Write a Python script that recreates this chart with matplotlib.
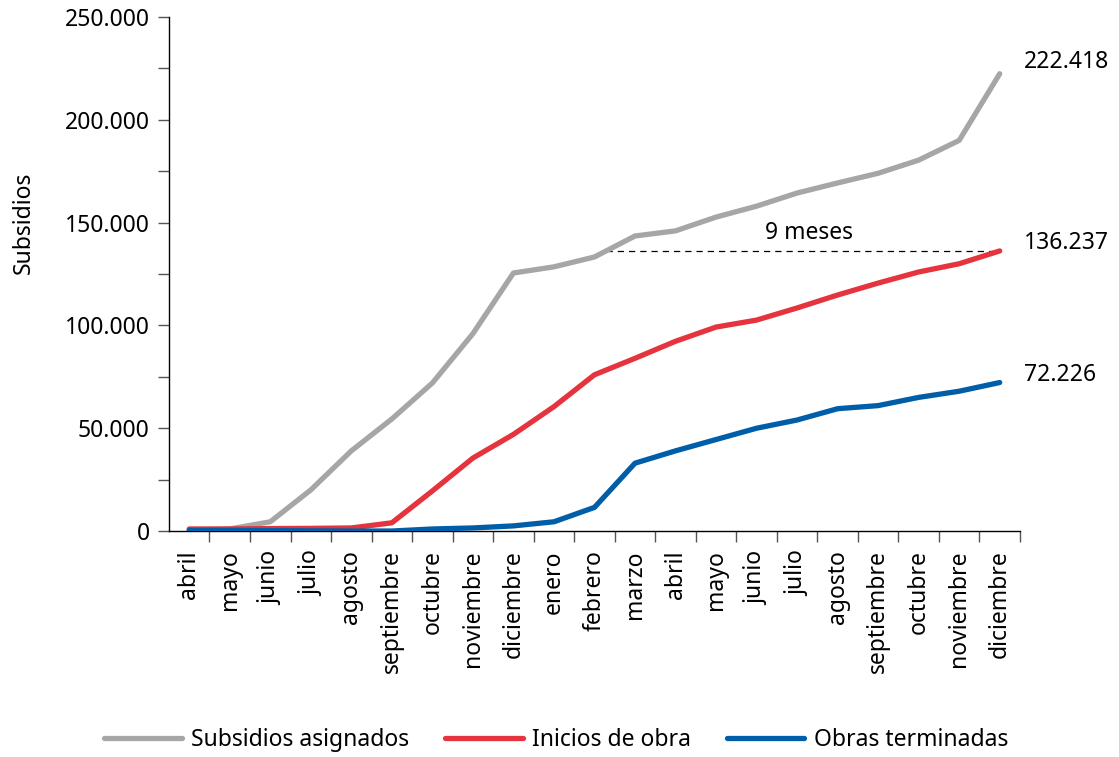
import matplotlib.pyplot as plt
import numpy as np
from matplotlib.ticker import FuncFormatter, FixedLocator

plt.rcParams['font.family'] = ['Noto Sans', 'DejaVu Sans']

meses = ['abril', 'mayo', 'junio', 'julio', 'agosto', 'septiembre', 'octubre',
         'noviembre', 'diciembre', 'enero', 'febrero', 'marzo', 'abril', 'mayo',
         'junio', 'julio', 'agosto', 'septiembre', 'octubre', 'noviembre', 'diciembre']

asignados = [500, 1000, 4500, 20000, 39000, 54500, 72000, 96000, 125500, 128500,
             133300, 143500, 146000, 152700, 158000, 164400, 169300, 174000,
             180400, 190000, 222418]
inicios = [1000, 1000, 1200, 1300, 1500, 4000, 19500, 35500, 47000, 60500,
           76000, 84000, 92300, 99200, 102600, 108500, 114800, 120600, 126000,
           130000, 136237]
terminadas = [300, 300, 200, 100, 0, 0, 1000, 1500, 2500, 4500, 11500, 33000,
              39000, 44500, 50000, 54000, 59500, 61000, 65000, 68000, 72226]

c_gris = '#a6a6a6'
c_rojo = '#e5343d'
c_azul = '#005ea8'
fs = 16.5

fig = plt.figure(figsize=(11.19, 7.57), dpi=100)
ax = fig.add_axes([0.151, 0.2985, 0.7605, 0.679])

x = np.arange(len(meses))
lw = 3.8
ax.plot(x, asignados, color=c_gris, lw=lw, solid_capstyle='round', label='Subsidios asignados', zorder=3)
ax.plot(x, inicios, color=c_rojo, lw=lw, solid_capstyle='round', label='Inicios de obra', zorder=3)
ax.plot(x, terminadas, color=c_azul, lw=lw, solid_capstyle='round', label='Obras terminadas', zorder=4)

# dashed line: where asignados reached the final inicios value
objetivo = inicios[-1]
x_cruce = np.interp(objetivo, asignados, x)
ax.plot([x_cruce, x[-1]], [objetivo, objetivo], color='black', lw=0.9, ls=(0, (5, 4)), zorder=2)
ax.text(15.3, 145000, '9 meses', fontsize=fs, ha='center', va='center')

# end labels
for serie, dy in [(asignados, 5800), (inicios, 3900), (terminadas, 3600)]:
    v = serie[-1]
    ax.text(x[-1] + 0.6, v + dy, f'{v:,}'.replace(',', '.'), fontsize=fs,
            ha='left', va='center')

ax.set_xlim(-0.5, len(meses) - 0.5)
ax.set_ylim(0, 250000)
ax.set_yticks(np.arange(0, 250001, 50000))
ax.yaxis.set_minor_locator(FixedLocator(np.arange(25000, 250000, 50000)))
ax.yaxis.set_major_formatter(FuncFormatter(lambda v, p: f'{int(v):,}'.replace(',', '.')))
ax.tick_params(axis='y', which='both', length=8, width=1, color='#555555', labelsize=fs, pad=6)

ax.set_xticks(x)
ax.set_xticklabels(meses, rotation=90, fontsize=fs)
ax.xaxis.set_minor_locator(FixedLocator(np.arange(0.5, len(meses), 1)))
ax.tick_params(axis='x', which='major', length=0, pad=14)
ax.tick_params(axis='x', which='minor', length=8, width=1, color='#555555')

ax.spines['top'].set_visible(False)
ax.spines['right'].set_visible(False)
ax.spines['left'].set_linewidth(1)
ax.spines['bottom'].set_linewidth(1)

ax.set_ylabel('Subsidios', fontsize=fs)
ax.yaxis.set_label_coords(-0.157, 0.60)

fig.legend(loc='center', bbox_to_anchor=(0.497, 0.0225), ncol=3, frameon=False,
           fontsize=fs, handlelength=3.4, handletextpad=0.4, columnspacing=1.55)

fig.savefig('out.png', dpi=100)
